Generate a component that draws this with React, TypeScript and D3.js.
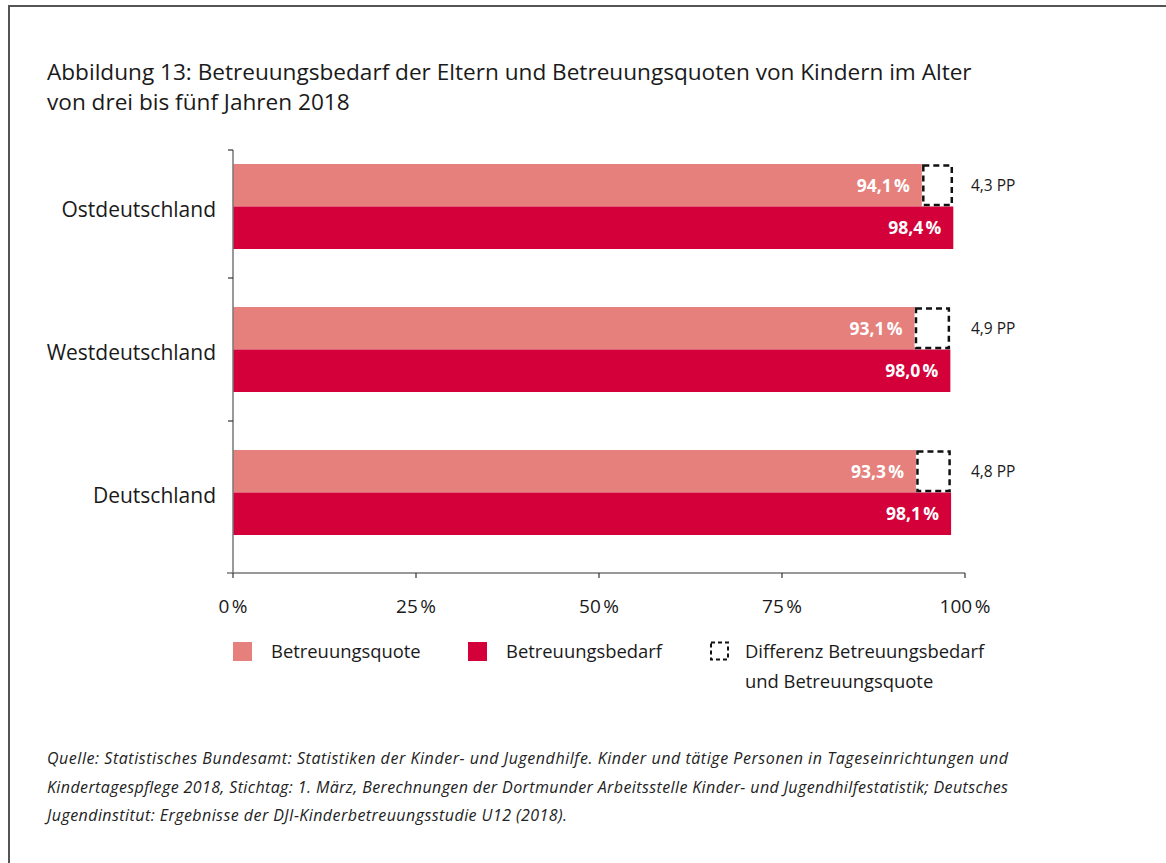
import React from "react";
import * as d3 from "d3";

const categories = ["Ostdeutschland", "Westdeutschland", "Deutschland"];
const quote = [94.1, 93.1, 93.3];
const bedarf = [98.4, 98.0, 98.1];
const diffLabels = ["4,3 PP", "4,9 PP", "4,8 PP"];
const xTicks = [0, 25, 50, 75, 100];

const LIGHT = "#E5807D";
const DARK = "#D3003A";
const FONT = "'Open Sans', 'Noto Sans', sans-serif";

const fmt = (v: number) => v.toFixed(1).replace(".", ",") + "\u202F%";

export default function App() {
  const W = 1166, H = 863;
  const x = d3.scaleLinear().domain([0, 100]).range([233, 965]);
  const y = d3.scaleBand<string>().domain(categories).range([135, 564]);
  const barH = 42.5;
  const axisY = 573;

  return (
    <svg width={W} height={H} style={{ position: "absolute", left: 0, top: 0, background: "#fff" }} fontFamily={FONT}>
      <path d={`M9,${H} L9,6 L${W},6`} fill="none" stroke="#555" strokeWidth={2} />
      <text x={47} y={80} fontSize={22.6} fill="#1a1a1a">Abbildung 13: Betreuungsbedarf der Eltern und Betreuungsquoten von Kindern im Alter</text>
      <text x={47} y={110} fontSize={22.6} fill="#1a1a1a">von drei bis fünf Jahren 2018</text>

      {categories.map((c, i) => {
        const b0 = y(c)!;
        const mid = b0 + y.bandwidth() / 2;
        const t1 = mid - barH;
        return (
          <g key={c}>
            <rect x={x(0)} y={t1} width={x(quote[i]) - x(0)} height={barH} fill={LIGHT} />
            <rect x={x(0)} y={mid} width={x(bedarf[i]) - x(0)} height={barH} fill={DARK} />
            <rect x={x(quote[i]) + 1.5} y={t1 + 1.5} width={x(bedarf[i]) - x(quote[i]) - 3} height={barH - 3}
              fill="none" stroke="#111" strokeWidth={2.5} strokeDasharray="6,4" />
            <text x={x(quote[i]) - 12} y={t1 + barH / 2} dy="0.36em" textAnchor="end" fill="#fff" fontWeight={700} fontSize={17.5}>{fmt(quote[i])}</text>
            <text x={x(bedarf[i]) - 12} y={mid + barH / 2} dy="0.36em" textAnchor="end" fill="#fff" fontWeight={700} fontSize={17.5}>{fmt(bedarf[i])}</text>
            <text x={971} y={t1 + barH / 2} dy="0.35em" fontSize={15.5} fill="#1a1a1a">{diffLabels[i]}</text>
            <text x={216} y={mid} dy="0.5em" textAnchor="end" fontSize={21} fill="#1a1a1a">{c}</text>
          </g>
        );
      })}

      {/* y axis */}
      <line x1={233} x2={233} y1={150} y2={axisY} stroke="#777" strokeWidth={1.5} />
      {[150, ...categories.slice(1).map((c) => y(c)!)].map((t, i) => (
        <line key={i} x1={228} x2={233} y1={t} y2={t} stroke="#333" strokeWidth={1.2} />
      ))}
      {/* x axis */}
      <line x1={227} x2={x(100)} y1={axisY} y2={axisY} stroke="#777" strokeWidth={1.5} />
      {xTicks.map((t) => (
        <g key={t}>
          <line x1={x(t)} x2={x(t)} y1={axisY} y2={axisY + 5} stroke="#333" strokeWidth={1.2} />
          <text x={x(t)} y={613} textAnchor="middle" fontSize={19} fill="#1a1a1a">{t}{"\u202F%"}</text>
        </g>
      ))}

      {/* legend */}
      <rect x={233} y={642} width={19} height={19} fill={LIGHT} />
      <text x={271} y={658} fontSize={18.4} fill="#1a1a1a">Betreuungsquote</text>
      <rect x={468} y={642} width={19} height={19} fill={DARK} />
      <text x={506} y={658} fontSize={18.4} fill="#1a1a1a">Betreuungsbedarf</text>
      <rect x={711} y={642.5} width={17} height={17} fill="none" stroke="#111" strokeWidth={2} strokeDasharray="4,3" />
      <text x={745} y={658} fontSize={18.4} fill="#1a1a1a">Differenz Betreuungsbedarf</text>
      <text x={745} y={688} fontSize={18.4} fill="#1a1a1a">und Betreuungsquote</text>

      {/* source */}
      <g fontStyle="italic" fontSize={16} fill="#222">
        <text x={47} y={764} textLength={961} lengthAdjust="spacing">Quelle: Statistisches Bundesamt: Statistiken der Kinder- und Jugendhilfe. Kinder und tätige Personen in Tageseinrichtungen und</text>
        <text x={47} y={793} textLength={961} lengthAdjust="spacing">Kindertagespflege 2018, Stichtag: 1. März, Berechnungen der Dortmunder Arbeitsstelle Kinder- und Jugendhilfestatistik; Deutsches</text>
        <text x={47} y={821} textLength={520} lengthAdjust="spacing">Jugendinstitut: Ergebnisse der DJI-Kinderbetreuungsstudie U12 (2018).</text>
      </g>
    </svg>
  );
}
